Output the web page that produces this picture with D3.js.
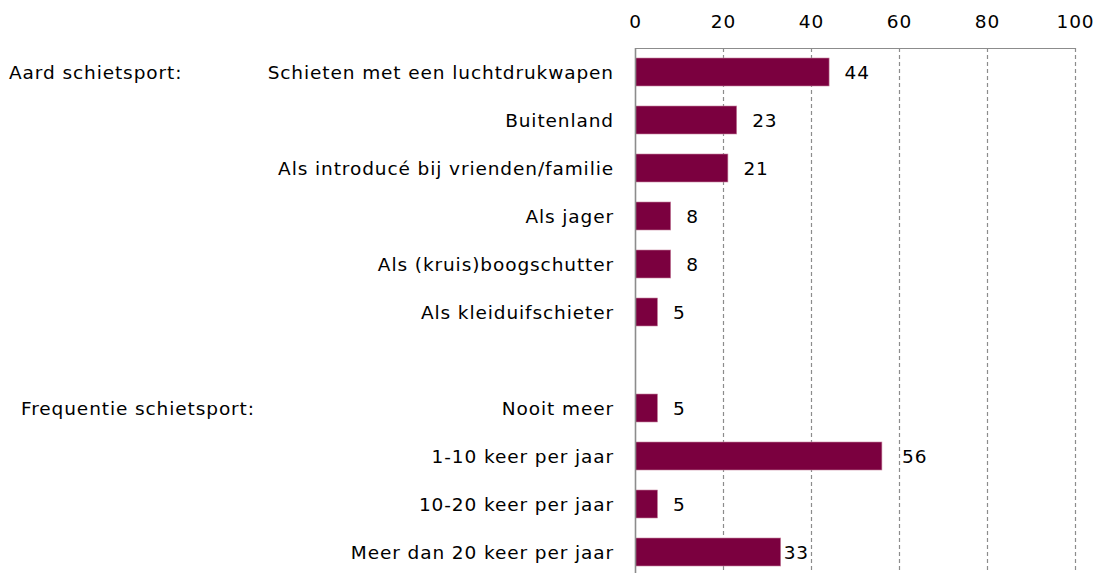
<!DOCTYPE html>
<html>
<head>
<meta charset="utf-8">
<script src="https://cdn.jsdelivr.net/npm/d3@7/dist/d3.min.js"></script>
<style>
  html, body { margin: 0; padding: 0; background: #fff; }
  svg { display: block; font-family: "DejaVu Sans", Verdana, sans-serif; }
  svg text { letter-spacing: 0.9px; }
</style>
</head>
<body>
<svg id="chart" width="1097" height="573"></svg>
<script>
// Survey results: kind of shooting sport and how often it is practised (%)
const aardCategories = [
  "Schieten met een luchtdrukwapen",
  "Buitenland",
  "Als introducé bij vrienden/familie",
  "Als jager",
  "Als (kruis)boogschutter",
  "Als kleiduifschieter"
];
const aardValues = [44, 23, 21, 8, 8, 5];

const freqCategories = [
  "Nooit meer",
  "1-10 keer per jaar",
  "10-20 keer per jaar",
  "Meer dan 20 keer per jaar"
];
const freqValues = [5, 56, 5, 33];

const groupTitles = ["Aard schietsport:", "Frequentie schietsport:"];
const tickValues = [0, 20, 40, 60, 80, 100];

// Rows: first group, an empty spacer row, second group
const rows = [
  ...aardCategories.map((c, i) => ({ key: "a" + i, label: c, value: aardValues[i] })),
  { key: "gap", label: "", value: null },
  ...freqCategories.map((c, i) => ({ key: "f" + i, label: c, value: freqValues[i] }))
];

const svg = d3.select("#chart");
const W = 1097, H = 573;
const fontSize = 18.5;
const barColor = "#7b003f";
const gridColor = "#8c8c8c";

const x = d3.scaleLinear().domain([0, 100]).range([635, 1075]);
const y = d3.scaleBand()
  .domain(rows.map(r => r.key))
  .range([48, 576])
  .paddingInner(20 / 48)
  .paddingOuter(10 / 48);

const axisTop = 48;

// Dashed vertical gridlines
svg.append("g")
  .selectAll("line")
  .data(tickValues.filter(t => t > 0))
  .join("line")
  .attr("x1", d => x(d) + 0.5).attr("x2", d => x(d) + 0.5)
  .attr("y1", axisTop).attr("y2", H)
  .attr("stroke", gridColor)
  .attr("stroke-width", 1.2)
  .attr("stroke-dasharray", "4,3");

// Top axis with tick labels
const axis = d3.axisTop(x).tickValues(tickValues).tickSize(0).tickPadding(0).tickFormat(d3.format("d"));
const axisG = svg.append("g").attr("transform", `translate(0,${axisTop})`).call(axis);
axisG.select(".domain").remove();
axisG.selectAll("text")
  .attr("y", -20)
  .attr("dy", "0")
  .attr("fill", "#000")
  .style("font-family", "DejaVu Sans, sans-serif")
  .style("font-size", fontSize + "px");
svg.append("line")
  .attr("x1", x(0)).attr("x2", x(100) + 0.5)
  .attr("y1", axisTop + 0.5).attr("y2", axisTop + 0.5)
  .attr("stroke", gridColor).attr("stroke-width", 1.2);

// Bars
const dataRows = rows.filter(r => r.value !== null);
svg.append("g")
  .selectAll("rect")
  .data(dataRows)
  .join("rect")
  .attr("x", x(0) + 0.5)
  .attr("y", d => y(d.key))
  .attr("width", d => x(d.value) - x(0))
  .attr("height", y.bandwidth())
  .attr("fill", barColor)
  .attr("stroke", "#c7849f")
  .attr("stroke-width", 0.6);

// Vertical baseline at 0
svg.append("line")
  .attr("x1", x(0) + 0.5).attr("x2", x(0) + 0.5)
  .attr("y1", axisTop).attr("y2", H)
  .attr("stroke", gridColor).attr("stroke-width", 1.6);

// Category labels
svg.append("g")
  .selectAll("text")
  .data(dataRows)
  .join("text")
  .attr("x", x(0) - 21)
  .attr("y", d => y(d.key) + y.bandwidth() / 2)
  .attr("dy", "0.36em")
  .attr("text-anchor", "end")
  .style("font-size", fontSize + "px")
  .text(d => d.label);

// Group titles
svg.append("text")
  .attr("x", 9).attr("y", y("a0") + y.bandwidth() / 2).attr("dy", "0.36em")
  .style("font-size", fontSize + "px").text(groupTitles[0]);
svg.append("text")
  .attr("x", 21).attr("y", y("f0") + y.bandwidth() / 2).attr("dy", "0.36em")
  .style("font-size", fontSize + "px").text(groupTitles[1]);

// Value labels, nudged so they never sit across a gridline
const gridXs = tickValues.filter(t => t > 0).map(t => x(t));
const labels = svg.append("g")
  .selectAll("text")
  .data(dataRows)
  .join("text")
  .attr("y", d => y(d.key) + y.bandwidth() / 2)
  .attr("dy", "0.36em")
  .style("font-size", fontSize + "px")
  .text(d => d.value);

labels.each(function(d) {
  const w = this.getComputedTextLength();
  const end = x(d.value);
  let start = end + 16;
  const hit = gridXs.find(g => start - 2 < g && start + w + 2 > g);
  if (hit !== undefined) {
    const before = hit - 2 - w;
    const after = hit + 3;
    if (before > end && Math.abs(before - start) <= Math.abs(after - start)) start = Math.max(before, end + 3);
    else start = after;
  }
  d3.select(this).attr("x", start);
});
</script>
</body>
</html>
